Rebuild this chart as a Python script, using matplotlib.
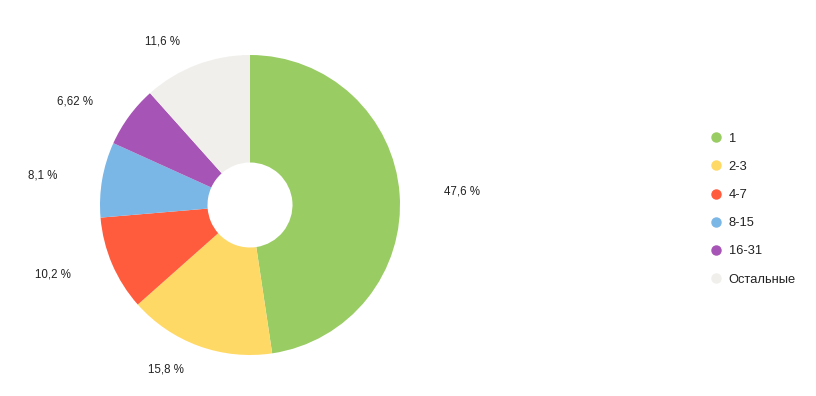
import numpy as np
import matplotlib.pyplot as plt
from matplotlib.lines import Line2D

categories = ['1', '2-3', '4-7', '8-15', '16-31', 'Остальные']
shares = [47.6, 15.8, 10.2, 8.1, 6.62, 11.6]
share_labels = ['47,6 %', '15,8 %', '10,2 %', '8,1 %', '6,62 %', '11,6 %']
colors = ['#99cc63', '#ffd966', '#ff5b3d', '#7ab6e6', '#a654b5', '#f0efec']

W, H = 816, 396
fig = plt.figure(figsize=(W / 100, H / 100), dpi=100)
# pie: centre (250, 205) px, radius 150 px
ax = fig.add_axes([100 / W, (H - 355) / H, 300 / W, 300 / H])

wedges, texts = ax.pie(shares, colors=colors, startangle=90, counterclock=False,
                       radius=1, labels=share_labels,
                       wedgeprops=dict(width=1 - 42.5 / 150, linewidth=0),
                       textprops=dict(fontsize=8.3, color='#222222', family='Liberation Sans'))
# labels sit on an ellipse around the pie, aligned away from it
for w, t in zip(wedges, texts):
    ang = np.deg2rad((w.theta1 + w.theta2) / 2)
    x, y = 1.3 * np.cos(ang), 1.17 * np.sin(ang)
    t.set_position((x, y))
    t.set_ha('left' if x > 0 else 'right')
    t.set_va('center')
ax.set_xlim(-1, 1)
ax.set_ylim(-1, 1)
ax.set_aspect('equal')
ax.axis('off')

handles = [Line2D([], [], marker='o', linestyle='', markersize=6.5,
                  markerfacecolor=c, markeredgecolor=c) for c in colors]
fig.legend(handles, categories, loc='upper left', bbox_to_anchor=(699 / W, 1 - 121 / H),
           frameon=False, handlelength=0.8, handletextpad=0.6, labelspacing=1.25,
           prop=dict(family='Liberation Sans', size=9.3), labelcolor='#222222')

fig.savefig('out.png', dpi=100)
